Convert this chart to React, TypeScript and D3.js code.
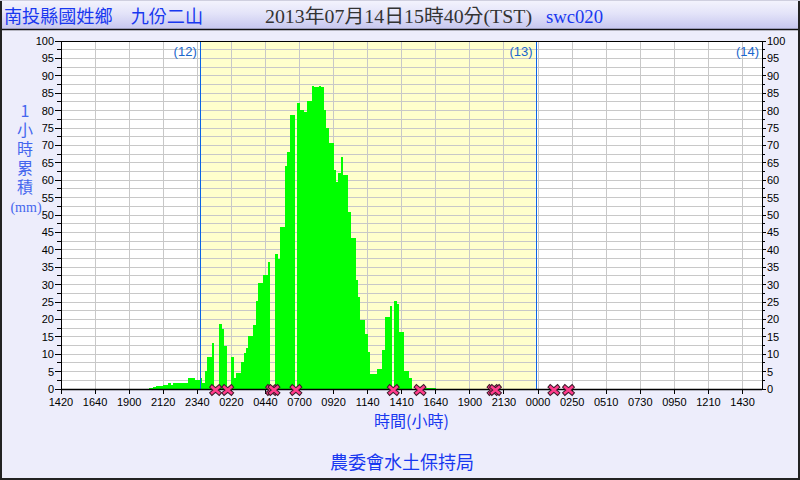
import React from "react";
import * as d3 from "d3";

// chart size and plot frame
const W = 800;
const H = 480;
const plot = { left: 61, right: 762, top: 41, bottom: 389 };

// x axis: 10-minute slots, a labelled tick every 14 slots
const totalSlots = 288;
const slotsPerTick = 14;
const tickLabels = [
  "1420", "1640", "1900", "2120", "2340", "0220", "0440", "0700", "0920", "1140",
  "1410", "1640", "1900", "2130", "0000", "0250", "0510", "0730", "0950", "1210", "1430",
];

// day segments: label and slot where the day ends
const dayLabels = ["(12)", "(13)", "(14)"];
const dayEnds = [57, 195, 288];

// 1-hour accumulated rainfall (mm), one value per slot from firstSlot on
const firstSlot = 36;
const rain: (number | null)[] = [
  0.4, 0.4, 0.6, 0.8, 0.8, 0.8, 1.2, 1.1, 1.7, 1.1, // 36-45
  1.7, 1.7, 1.7, 1.7, 1.7, 1.7, 3.2, 3.2, 3.2, 2.6, // 46-55
  2.6, 3.2, 1.8, 5.2, 9.2, 9.2, 13.2, null, 0, 18.7, // 56-65
  17.1, 12.4, null, 0, 9.2, 3.2, 4.5, 4.5, 7.7, 10.3, // 66-75
  11.9, 15.2, 15.2, 18.4, 25.4, 30.4, 30.4, 32.8, 32.8, 36.4, // 76-85
  null, null, 38.8, 37.4, 46.6, 46.6, 64.1, 68.2, 78.7, 78.7, // 86-95
  null, 82.3, 80.3, 80.3, 79.7, 82.9, 82.9, 87.1, 86.8, 86.8, // 96-105
  87.1, 86.8, 80.2, 75.1, 70.8, 70.8, 62.9, 59.6, 62.0, 66.8, // 106-115
  61.5, 61.5, 51.0, 43.3, 43.3, 31.3, 26.5, 19.8, 19.8, 15.9, // 116-125
  10.7, 4.3, 4.3, 4.3, 5.7, 5.7, 11.2, 20.8, 20.8, 23.9, // 126-135
  null, 25.3, 24.5, 16.5, 16.5, 5.3, 5.3, 3.2, 0, 0, // 136-145
  0, null, 0.5, 0.5, 0.4, 0.4, 0.4, 0.4, // 146-153
];

// slots with missing records (drawn as crosses on the axis)
const missingSlots = [63, 68, 86, 87, 96, 136, 147, 177, 178, 202, 208];

const yTitle = "1小時累積";
const yUnit = "(mm)";

const sans = "'Liberation Sans', Arial, sans-serif";
const cjk = "'Noto Sans CJK TC', sans-serif";
const serif = "'Liberation Serif', 'Noto Sans CJK TC', serif";

export default function App() {
  const x = d3.scaleLinear().domain([0, totalSlots]).range([plot.left, plot.right]);
  const y = d3.scaleLinear().domain([0, 100]).range([plot.bottom, plot.top]);
  const step = x(1) - x(0);

  const gridY = d3.range(0, 100.01, 2.5);
  const majorY = d3.range(0, 100.01, 5);
  const ticksX = tickLabels.map((_, i) => i * slotsPerTick);

  const bars = rain
    .map((v, i) => ({ slot: firstSlot + i, v }))
    .filter((d) => d.v != null && d.v > 0) as { slot: number; v: number }[];

  const blueText = "#1838f0";

  return (
    <div style={{ width: W, height: H }}>
      <style>{`body{margin:0}`}</style>
      <svg width={W} height={H} style={{ display: "block" }}>
        <defs>
          <linearGradient id="titleBar" x1="0" y1="0" x2="0" y2="1">
            <stop offset="0%" stopColor="#f4f4fd" />
            <stop offset="45%" stopColor="#e4e4f9" />
            <stop offset="100%" stopColor="#c6c6ef" />
          </linearGradient>
        </defs>

        {/* page background */}
        <rect x={0} y={0} width={W} height={H} fill="#ededfb" />
        <rect x={0} y={0} width={W} height={29} fill="url(#titleBar)" />
        <line x1={0} x2={W} y1={29.5} y2={29.5} stroke="#111" strokeWidth={1.5} />

        {/* title */}
        <text x={4} y={23} fontSize={18} fill={blueText} fontFamily={cjk} textLength={199} lengthAdjust="spacingAndGlyphs">
          南投縣國姓鄉　九份二山
        </text>
        <text x={265} y={23} fontSize={19} fill="#333" fontFamily={serif} textLength={267} lengthAdjust="spacingAndGlyphs">
          2013年07月14日15時40分(TST)
        </text>
        <text x={546} y={23} fontSize={18} fill={blueText} fontFamily={serif} textLength={57} lengthAdjust="spacingAndGlyphs">
          swc020
        </text>

        {/* plot background */}
        <rect x={plot.left} y={plot.top} width={plot.right - plot.left} height={plot.bottom - plot.top} fill="#fff" />
        <rect
          x={x(dayEnds[0])}
          y={plot.top}
          width={x(dayEnds[1]) - x(dayEnds[0])}
          height={plot.bottom - plot.top}
          fill="#ffffcc"
        />

        {/* grid */}
        <g stroke="#c8c8c8" strokeWidth={1} shapeRendering="crispEdges">
          {gridY.map((v) => (
            <line key={`gy${v}`} x1={plot.left} x2={plot.right} y1={y(v)} y2={y(v)} />
          ))}
          {ticksX.map((s) => (
            <line key={`gx${s}`} x1={x(s)} x2={x(s)} y1={plot.top} y2={plot.bottom} />
          ))}
        </g>

        {/* bars */}
        <g fill="#00ff00" shapeRendering="crispEdges">
          {bars.map((d) => (
            <rect key={d.slot} x={x(d.slot)} y={y(d.v)} width={step} height={y(0) - y(d.v)} />
          ))}
        </g>

        {/* day boundaries */}
        {dayEnds.slice(0, 2).map((s) => (
          <line
            key={`d${s}`}
            x1={Math.round(x(s)) + 0.5}
            x2={Math.round(x(s)) + 0.5}
            y1={plot.top}
            y2={plot.bottom}
            stroke="#0a64e6"
            strokeWidth={1}
          />
        ))}
        {dayLabels.map((t, i) => (
          <text
            key={t}
            x={Math.min(x(dayEnds[i]), plot.right) - 3}
            y={56}
            textAnchor="end"
            fontSize={13}
            fill="#1a66cc"
            fontFamily={sans}
          >
            {t}
          </text>
        ))}

        {/* frame */}
        <rect
          x={plot.left}
          y={plot.top}
          width={plot.right - plot.left}
          height={plot.bottom - plot.top}
          fill="none"
          stroke="#000"
          strokeWidth={1}
          shapeRendering="crispEdges"
        />
        <line x1={plot.left} x2={plot.right} y1={plot.bottom + 0.5} y2={plot.bottom + 0.5} stroke="#000" strokeWidth={1.5} />

        {/* left and right y axes, bottom ticks */}
        <g stroke="#000" strokeWidth={1} shapeRendering="crispEdges">
          {gridY.map((v) => {
            const major = v % 5 === 0;
            return (
              <g key={`t${v}`}>
                <line x1={plot.left - (major ? 6 : 4)} x2={plot.left} y1={y(v)} y2={y(v)} />
                <line x1={plot.right} x2={plot.right + (major ? 4 : 3)} y1={y(v)} y2={y(v)} />
              </g>
            );
          })}
          {ticksX.map((s) => (
            <line key={`tx${s}`} x1={x(s)} x2={x(s)} y1={plot.bottom} y2={plot.bottom + 5} />
          ))}
        </g>
        <g fontSize={11} fontFamily={sans} fill="#000">
          {majorY.map((v) => (
            <g key={`l${v}`}>
              <text x={plot.left - 7} y={y(v)} dy="0.36em" textAnchor="end">
                {v}
              </text>
              <text x={plot.right + 5} y={y(v)} dy="0.36em" textAnchor="start">
                {v}
              </text>
            </g>
          ))}
          {ticksX.map((s, i) => (
            <text key={`lx${s}`} x={x(s)} y={406} textAnchor="middle">
              {tickLabels[i]}
            </text>
          ))}
        </g>

        {/* missing-record markers */}
        {missingSlots.map((s) => {
          const cx = x(s + 0.5);
          const cy = plot.bottom + 1;
          const p = `M${cx - 3.5},${cy - 3} L${cx + 3.5},${cy + 3} M${cx - 3.5},${cy + 3} L${cx + 3.5},${cy - 3}`;
          return (
            <g key={`m${s}`}>
              <path d={p} stroke="#3a1a28" strokeWidth={4.5} strokeLinecap="square" fill="none" />
              <path d={p} stroke="#ff3c8c" strokeWidth={2.6} strokeLinecap="square" fill="none" />
            </g>
          );
        })}

        {/* axis titles */}
        <text
          x={25}
          y={103}
          fontSize={16}
          fill="#4466ee"
          fontFamily={cjk}
          letterSpacing={3}
          style={{ writingMode: "vertical-rl", textOrientation: "upright" }}
        >
          {yTitle}
        </text>
        <text x={26} y={212} textAnchor="middle" fontSize={14} fill="#4466ee" fontFamily={serif}>
          {yUnit}
        </text>
        <text x={(plot.left + plot.right) / 2} y={427} textAnchor="middle" fontSize={16} fill={blueText} fontFamily={cjk}>
          時間(小時)
        </text>
        <text x={402} y={469} textAnchor="middle" fontSize={18} fill={blueText} fontFamily={cjk}>
          農委會水土保持局
        </text>

        {/* outer border */}
        <line x1={1} x2={1} y1={0} y2={H} stroke="#222" strokeWidth={2} />
        <line x1={W - 1} x2={W - 1} y1={0} y2={H} stroke="#222" strokeWidth={2} />
        <line x1={0} x2={W} y1={H - 1} y2={H - 1} stroke="#222" strokeWidth={2} />
        <line x1={0} x2={W} y1={0.5} y2={0.5} stroke="#cfcfdf" strokeWidth={1} />
      </svg>
    </div>
  );
}
